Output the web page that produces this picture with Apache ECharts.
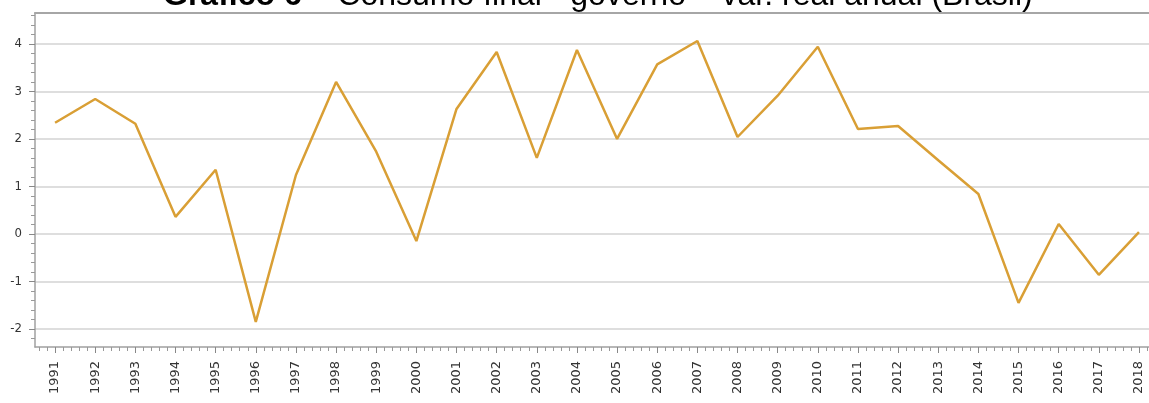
<!DOCTYPE html>
<html><head><meta charset="utf-8">
<script src="https://cdn.jsdelivr.net/npm/echarts@6/dist/echarts.min.js"></script>
<style>html,body{margin:0;padding:0;background:#fff}#c{width:1149px;height:403px}</style>
</head><body><div id="c"></div>
<script>
const years = [1991,1992,1993,1994,1995,1996,1997,1998,1999,2000,2001,2002,2003,2004,2005,2006,2007,2008,2009,2010,2011,2012,2013,2014,2015,2016,2017,2018];
const values = [2.34,2.84,2.32,0.36,1.35,-1.85,1.24,3.2,1.73,-0.15,2.63,3.83,1.6,3.87,2.0,3.57,4.06,2.04,2.91,3.94,2.21,2.27,1.55,0.84,-1.45,0.21,-0.86,0.04];
const yTicks = [-2,-1,0,1,2,3,4];
const titleBold = 'Gráfico 6';
const titleRest = ' – Consumo final - governo – var. real anual (Brasil)';

const yMin = -2.38, yMax = 4.65, xMin = 1990.5, xMax = 2018.25;
const xMinor = [];
for (let y = 1990; y <= 2018; y++) { for (let k = 1; k <= 4; k++) { const v = +(y + k*0.2).toFixed(2); if (v > xMin && v < xMax) xMinor.push(v); } }
const yMinor = [];
for (let y = -3; y <= 4; y++) { for (let k = 1; k <= 4; k++) { const v = +(y + k*0.2).toFixed(2); if (v > yMin && v < yMax) yMinor.push(v); } }

const chart = echarts.init(document.getElementById('c'));
chart.setOption({
  animation: false,
  title: {
    text: '{b|' + titleBold + '}{n|' + titleRest + '}',
    left: 158, top: -25,
    textStyle: { rich: {
      b: { fontFamily: 'Liberation Sans', fontWeight: 'bold', fontSize: 32, color: '#000' },
      n: { fontFamily: 'Liberation Sans', fontWeight: 'normal', fontSize: 32, color: '#000' }
    } }
  },
  grid: { left: 35, top: 13, right: 0, bottom: 56 },
  xAxis: [{
    type: 'value', min: xMin, max: xMax,
    axisLine: { show: true, onZero: false, lineStyle: { color: '#a0a0a0', width: 1.5 } },
    axisTick: { show: true, customValues: years, length: 6, lineStyle: { color: '#888' } },
    axisLabel: { customValues: years, rotate: 90, margin: 14, fontFamily: 'DejaVu Sans', fontSize: 13, color: '#333', formatter: v => String(v) },
    splitLine: { show: false }
  }, {
    type: 'value', min: xMin, max: xMax, position: 'bottom',
    axisLine: { show: false, onZero: false },
    axisTick: { show: true, customValues: xMinor, length: 4, lineStyle: { color: '#999' } },
    axisLabel: { show: false }, splitLine: { show: false }
  }, {
    type: 'value', min: xMin, max: xMax, position: 'top',
    axisLine: { show: true, onZero: false, lineStyle: { color: '#a6a6a6', width: 2 } },
    axisTick: { show: false }, axisLabel: { show: false }, splitLine: { show: false }
  }],
  yAxis: [{
    type: 'value', min: yMin, max: yMax, position: 'left',
    axisLine: { show: true, onZero: false, lineStyle: { color: '#a0a0a0', width: 1.5 } },
    axisTick: { show: true, customValues: yTicks, length: 6, lineStyle: { color: '#888' } },
    axisLabel: { customValues: yTicks, margin: 13, fontFamily: 'DejaVu Sans Condensed', fontSize: 13, color: '#333' },
    splitLine: { show: true, lineStyle: { color: '#dedede', width: 2 } }
  }, {
    type: 'value', min: yMin, max: yMax, position: 'left', offset: 0,
    axisLine: { show: false, onZero: false },
    axisTick: { show: true, customValues: yMinor, length: 4, lineStyle: { color: '#999', width: 1 } },
    axisLabel: { show: false }, splitLine: { show: false }
  }],
  series: [{
    type: 'line', xAxisIndex: 0, yAxisIndex: 0,
    data: years.map((y, i) => [y, values[i]]),
    showSymbol: false, symbol: 'none',
    lineStyle: { color: '#d99f35', width: 2.5 },
    itemStyle: { color: '#d99f35' }
  }]
});
</script></body></html>
